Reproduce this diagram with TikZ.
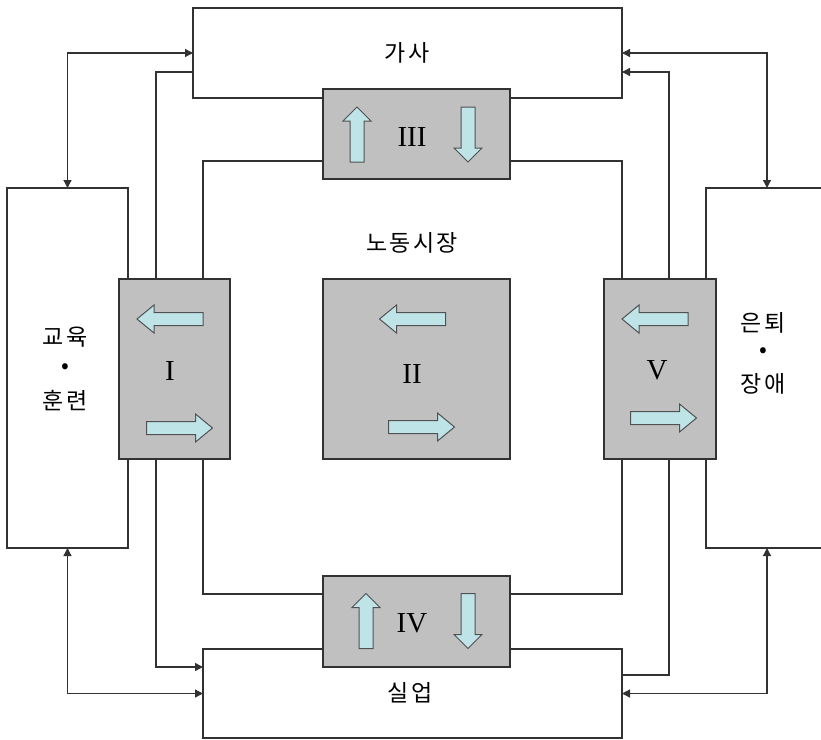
\documentclass[tikz,border=0pt]{standalone}
\usepackage{fontspec}
\setmainfont{Liberation Serif}
\newfontfamily\krfont[LetterSpace=10]{Noto Sans CJK KR}
\usetikzlibrary{arrows.meta}

\definecolor{panelgray}{RGB}{192,192,192}
\definecolor{flowcyan}{RGB}{190,228,232}
\definecolor{edgegray}{RGB}{50,50,50}

\begin{document}
\begin{tikzpicture}[x=1pt,y=-1pt,
  every node/.style={inner sep=0pt, outer sep=0pt},
  sector/.style={draw=edgegray, line width=1.3pt, fill=white},
  market/.style={draw=edgegray, line width=1.3pt, fill=panelgray},
  link/.style={draw=edgegray, line width=1.3pt},
  tip/.style={-{Triangle[length=8pt,width=8pt]}},
  both/.style={{Triangle[length=8pt,width=8pt]}-{Triangle[length=8pt,width=8pt]}},
  kr/.style={font=\krfont\fontsize{23}{27}\selectfont},
  num/.style={font=\fontsize{29}{30}\selectfont},
  flowarrow/.style={draw=edgegray!85, line width=1pt, fill=flowcyan},
  hflow/.pic={\path[flowarrow] (-33,-6.5) -- (16,-6.5) -- (16,-14) -- (33,0)
      -- (16,14) -- (16,6.5) -- (-33,6.5) -- cycle;},
  vflow/.pic={\path[flowarrow] (-27.5,-7) -- (13.5,-7) -- (13.5,-14) -- (27.5,0)
      -- (13.5,14) -- (13.5,7) -- (-27.5,7) -- cycle;},
]
\useasboundingbox (0,0) rectangle (821,739);
\clip (0,0) rectangle (821,739);

% outer states
\node[sector, minimum width=429pt, minimum height=90pt] (gasa) at (407.5,53) {};
\node[kr] (gasaText) at (407,53) {가사};
\node[sector, minimum width=121pt, minimum height=360pt] (edu) at (67.5,368) {};
\node[sector, minimum width=122pt, minimum height=360pt] (ret) at (767,368) {};
\node[sector, minimum width=419pt, minimum height=89pt] (silup) at (412.5,693.5) {};
\node[kr] (silupText) at (410,693) {실업};

% labels of the side states
\node[kr] (eduA) at (65,337) {교육};
\node[kr] (eduDot) at (65,369) {•};
\node[kr] (eduB) at (65,401) {훈련};
\node[kr] (retA) at (763,323) {은퇴};
\node[kr] (retDot) at (763,353) {•};
\node[kr] (retB) at (763,384) {장애};
\node[kr] (labour) at (412,243) {노동시장};

% transition panels
\node[market, minimum width=187pt, minimum height=90pt] (III) at (416.5,134) {};
\node[market, minimum width=111pt, minimum height=180pt] (I) at (174.5,369) {};
\node[market, minimum width=187pt, minimum height=180pt] (II) at (416.5,369) {};
\node[market, minimum width=112pt, minimum height=180pt] (V) at (660,369) {};
\node[market, minimum width=187pt, minimum height=91pt] (IV) at (416.5,621.5) {};

% bends of the connectors
\coordinate (jTL) at (156,72);
\coordinate (jTR) at (669,72);
\coordinate (jIIIl) at (203,161);
\coordinate (jIIIr) at (622,161);
\coordinate (jIVl) at (203,594);
\coordinate (jIVr) at (622,594);
\coordinate (jBL) at (156,667);
\coordinate (jBR) at (669,675);

% connectors
\draw[link] (I.north -| jTL) |- (gasa.west |- jTL);
\draw[link,tip] (V.north -| jTR) |- (gasa.east |- jTR);
\draw[link] (III.west |- jIIIl) -| (I.north -| jIIIl);
\draw[link] (III.east |- jIIIr) -| (V.north -| jIIIr);
\draw[link] (I.south -| jIVl) |- (IV.west |- jIVl);
\draw[link] (V.south -| jIVr) |- (IV.east |- jIVr);
\draw[link,tip] (I.south -| jBL) |- (silup.west |- jBL);
\draw[link] (V.south -| jBR) |- (silup.east |- jBR);
\draw[link,both] (gasa.west) -| (edu.north);
\draw[link,both] (gasa.east) -| (ret.north);
\draw[link,both] (edu.south) |- (silup.west);
\draw[link,both] (ret.south) |- (silup.east);

% numerals
\node[num] (nI) at (170,371) {I};
\node[num] (nII) at (412,374) {II};
\node[num] (nIII) at (412,137) {III};
\node[num] (nIV) at (412,623) {IV};
\node[num] (nV) at (657,370) {V};

% flow arrows inside the panels
\pic[rotate=180] at (170,319) {hflow};
\pic at (179.5,428) {hflow};
\pic[rotate=180] at (412.5,319) {hflow};
\pic at (421.5,427) {hflow};
\pic[rotate=180] at (655,319) {hflow};
\pic at (663.5,418) {hflow};
\pic[rotate=90] at (357,134.5) {vflow};
\pic[rotate=-90] at (468,134.5) {vflow};
\pic[rotate=90] at (366,621) {vflow};
\pic[rotate=-90] at (468,621) {vflow};
\end{tikzpicture}
\end{document}
